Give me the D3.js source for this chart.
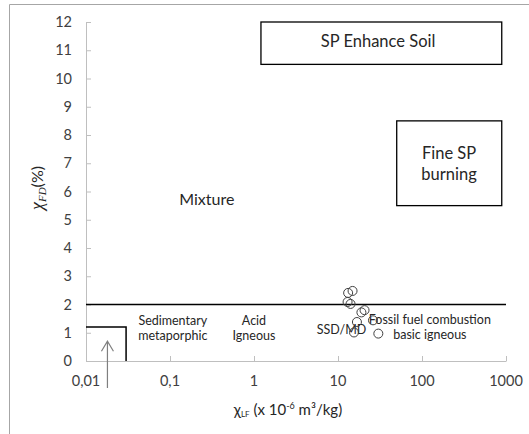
<!DOCTYPE html>
<html>
<head>
<meta charset="utf-8">
<script src="https://cdn.jsdelivr.net/npm/d3@7"></script>
<style>
  body { margin: 0; background: #fff; }
  svg { display: block; font-family: Lato, "Liberation Sans", sans-serif; }
</style>
</head>
<body>
<div id="chart"></div>
<script>
// chart data
var xTicks = [0.01, 0.1, 1, 10, 100, 1000];
var xTickLabels = ["0,01", "0,1", "1", "10", "100", "1000"];
var yTicks = [0, 1, 2, 3, 4, 5, 6, 7, 8, 9, 10, 11, 12];

// samples: chi LF (x axis) and chi FD % (y axis)
var chiLF = [14.9, 13.2, 13.0, 14.1, 20.7, 19.0, 16.8, 26.1, 15.5, 30.2];
var chiFD = [2.48, 2.41, 2.09, 2.02, 1.80, 1.72, 1.38, 1.44, 1.01, 0.97];

// boundary line and boxes (data units)
var limitLine = { x0: 0.01, x1: 1000, y: 2 };
var paraBox = { x0: 0.01, x1: 0.03, y0: 0, y1: 1.2 };
var regionNames = ["SP Enhance Soil", "Fine SP burning"];
var regionX0 = [1.21, 50];
var regionX1 = [890, 890];
var regionY0 = [10.5, 5.5];
var regionY1 = [12, 8.5];

var svgWidth = 529;
var svgHeight = 434;
var margin = { top: 22, left: 86, right: 23, bottom: 73 };
var width = svgWidth - margin.left - margin.right;
var height = svgHeight - margin.top - margin.bottom;

var svg = d3.select("#chart")
  .append("svg")
  .attr("width", svgWidth)
  .attr("height", svgHeight);

// frame remnant (top + left edges)
svg.append("path")
  .attr("d", "M9.5,434V4.5H529")
  .attr("fill", "none")
  .attr("stroke", "#a6a6a6")
  .attr("stroke-width", 1);

var g = svg.append("g")
  .attr("transform", `translate(${margin.left}, ${margin.top})`);

var x = d3.scaleLog().domain([0.01, 1000]).range([0, width]);
var y = d3.scaleLinear().domain([0, 12]).range([height, 0]);

// axes
var xAxis = d3.axisBottom(x)
  .tickValues(xTicks)
  .tickSizeInner(-5)
  .tickSizeOuter(0)
  .tickPadding(0)
  .tickFormat((d, i) => "");

var yAxis = d3.axisLeft(y)
  .tickValues(yTicks)
  .tickSizeInner(-5)
  .tickSizeOuter(0)
  .tickFormat("");

var xg = g.append("g")
  .attr("transform", `translate(0, ${height})`)
  .call(xAxis);

var yg = g.append("g").call(yAxis);

[xg, yg].forEach(function (a) {
  a.selectAll("path, line").attr("stroke", "#bfbfbf").attr("stroke-width", 1);
});

// tick labels
g.selectAll(".xlab")
  .data(xTicks)
  .enter().append("text")
  .attr("x", d => x(d))
  .attr("y", height + 25)
  .attr("text-anchor", "middle")
  .attr("font-size", 14.5)
  .attr("fill", "#404040")
  .text((d, i) => xTickLabels[i]);

g.selectAll(".ylab")
  .data(yTicks)
  .enter().append("text")
  .attr("x", -14)
  .attr("y", d => y(d))
  .attr("dy", "0.35em")
  .attr("text-anchor", "end")
  .attr("font-size", 14.5)
  .attr("fill", "#404040")
  .text(d => d);

// axis titles
var yTitle = svg.append("text")
  .attr("transform", "translate(43, 188) rotate(-90)")
  .attr("text-anchor", "middle")
  .attr("font-size", 16)
  .attr("fill", "#262626");
yTitle.append("tspan")
  .attr("font-family", "'Liberation Serif', serif")
  .attr("font-style", "italic")
  .attr("font-size", 18)
  .text("χ");
yTitle.append("tspan")
  .attr("font-family", "'Liberation Serif', serif")
  .attr("font-style", "italic")
  .attr("font-size", 11)
  .attr("dy", 3)
  .text("FD");
yTitle.append("tspan")
  .attr("dy", -3)
  .text("(%)");

var xTitle = svg.append("text")
  .attr("x", 288)
  .attr("y", 415)
  .attr("text-anchor", "middle")
  .attr("font-size", 15)
  .attr("fill", "#262626");
xTitle.append("tspan").text("χ");
xTitle.append("tspan").attr("font-size", 8).attr("dy", 2).text("LF");
xTitle.append("tspan").attr("dy", -2).text(" (x 10");
xTitle.append("tspan").attr("font-size", 9).attr("dy", -6).text("-6");
xTitle.append("tspan").attr("dy", 6).text(" m³/kg)");

// boundary at 2 %
g.append("line")
  .attr("x1", x(limitLine.x0))
  .attr("x2", x(limitLine.x1))
  .attr("y1", y(limitLine.y))
  .attr("y2", y(limitLine.y))
  .attr("stroke", "#000")
  .attr("stroke-width", 1.5);

// small paramagnetic box
g.append("path")
  .attr("d", `M${x(paraBox.x0)},${y(paraBox.y1)}H${x(paraBox.x1)}V${y(paraBox.y0)}`)
  .attr("fill", "none")
  .attr("stroke", "#000")
  .attr("stroke-width", 1.5);

// arrow pointing into small box
var ax = x(0.018);
g.append("path")
  .attr("d", `M${ax},${height + 27}V${y(0.7)}M${ax - 6},${y(0.7) + 10}L${ax},${y(0.7)}L${ax + 6},${y(0.7) + 10}`)
  .attr("fill", "none")
  .attr("stroke", "#7f7f7f")
  .attr("stroke-width", 1.2);

// region boxes
g.selectAll(".region")
  .data(regionNames)
  .enter().append("rect")
  .attr("x", (d, i) => x(regionX0[i]))
  .attr("y", (d, i) => y(regionY1[i]))
  .attr("width", (d, i) => x(regionX1[i]) - x(regionX0[i]))
  .attr("height", (d, i) => y(regionY0[i]) - y(regionY1[i]))
  .attr("fill", "none")
  .attr("stroke", "#000")
  .attr("stroke-width", 1.3);

// labels
function label(xv, yv, lines, size, lh) {
  var t = g.append("text")
    .attr("x", x(xv))
    .attr("y", y(yv))
    .attr("text-anchor", "middle")
    .attr("font-size", size)
    .attr("fill", "#262626");
  lines.forEach(function (s, i) {
    t.append("tspan")
      .attr("x", x(xv))
      .attr("dy", i === 0 ? 0 : lh)
      .text(s);
  });
}

label(30, 11.1, ["SP Enhance Soil"], 16.5, 20);
label(210, 7.15, ["Fine SP", "burning"], 16.5, 20.5);
label(0.274, 5.53, ["Mixture"], 16, 18);
label(0.108, 1.27, ["Sedimentary", "metaporphic"], 12.5, 14.5);
label(1, 1.27, ["Acid", "Igneous"], 12.5, 14.5);
label(11, 0.96, ["SSD/MD"], 12.5, 14.5);
label(124, 1.3, ["Fossil fuel combustion", "basic igneous"], 12.5, 14.5);

// samples
g.selectAll("circle")
  .data(chiLF)
  .enter().append("circle")
  .attr("cx", d => x(d))
  .attr("cy", (d, i) => y(chiFD[i]))
  .attr("r", 4.5)
  .attr("fill", "none")
  .attr("stroke", "#404040")
  .attr("stroke-width", 1);
</script>
</body>
</html>
